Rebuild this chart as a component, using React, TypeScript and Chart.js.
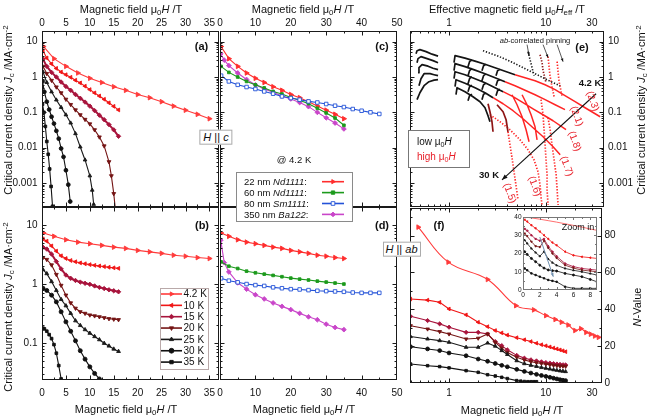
import React, { useEffect, useRef } from 'react';
import { Chart, registerables } from 'chart.js';

Chart.register(...registerables);

const W = 647;
const H = 418;
const FONT = '"Liberation Sans", Arial, Helvetica, sans-serif';
Chart.defaults.font.family = FONT;
Chart.defaults.color = '#111';

// ================= tick labels =================
const TICKS_A_X = [0, 5, 10, 15, 20, 25, 30, 35];
const TICKS_C_X = [0, 10, 20, 30, 40, 50];
const TICKS_LOG_X = [1, 10, 30];
const TICKS_JC_TOP = [0.001, 0.01, 0.1, 1, 10];
const TICKS_JC_BOT = [0.1, 1, 10];
const TICKS_N = [0, 20, 40, 60, 80];
const TICKS_IN_X = [0, 2, 4, 6, 8];
const TICKS_IN_Y = [0, 10, 20, 30, 40];

// ================= legend labels =================
const TEMPS = ['4.2 K', '10 K', '15 K', '20 K', '25 K', '30 K', '35 K'];
const SAMPLES = [
  ['22 nm ', 'Nd1111', ':'],
  ['60 nm ', 'Nd1111', ':'],
  ['80 nm ', 'Sm1111', ':'],
  ['350 nm ', 'Ba122', ':'],
];

// ================= panels c / d (and 4.2 K in a / b) =================
const ND22_X = [0.3, 2.5, 5, 7.5, 10, 12.5, 15, 17.5, 20, 22.5, 25, 27.5, 30, 32.5, 35];
const ND22_HC = [7.3, 3.3, 2.0, 1.3, 0.92, 0.7, 0.53, 0.42, 0.32, 0.26, 0.2, 0.15, 0.115, 0.088, 0.066];
const ND22_HAB = [7.3, 6.4, 5.6, 5.1, 4.8, 4.5, 4.2, 4.0, 3.7, 3.5, 3.3, 3.07, 2.95, 2.8, 2.7];
const ND60_X = [0.3, 2.5, 5, 7.5, 10, 12.5, 15, 17.5, 20, 22.5, 25, 27.5, 30, 32.5, 35];
const ND60_HC = [2.0, 1.35, 1.0, 0.75, 0.6, 0.49, 0.39, 0.33, 0.264, 0.22, 0.176, 0.13, 0.096, 0.069, 0.043];
const ND60_HAB = [2.37, 2.0, 1.83, 1.65, 1.55, 1.47, 1.4, 1.33, 1.26, 1.21, 1.17, 1.12, 1.08, 1.04, 1.0];
const SM80_X = [0.3, 2.5, 5, 7.5, 10, 12.5, 15, 17.5, 20, 22.5, 25, 27.5, 30, 32.5, 35, 37.5, 40, 42.5, 45];
const SM80_HC = [1.09, 0.75, 0.6, 0.52, 0.457, 0.39, 0.337, 0.282, 0.254, 0.228, 0.204, 0.19, 0.172, 0.154, 0.141, 0.124, 0.111, 0.1, 0.09];
const SM80_HAB = [1.25, 1.14, 1.07, 1.0, 0.96, 0.93, 0.88, 0.85, 0.82, 0.81, 0.79, 0.77, 0.76, 0.75, 0.74, 0.72, 0.71, 0.71, 0.71];
const BA122_X = [0.2, 1.2, 2.5, 5, 7.5, 10, 12.5, 15, 17.5, 20, 22.5, 25, 27.5, 30, 32.5, 35];
const BA122_HC = [4.5, 3.0, 2.1, 1.3, 0.85, 0.6, 0.46, 0.37, 0.29, 0.24, 0.19, 0.145, 0.1, 0.07, 0.05, 0.034];
const BA122_HAB = [5.5, 2.3, 1.6, 1.05, 0.82, 0.66, 0.56, 0.48, 0.42, 0.37, 0.32, 0.28, 0.25, 0.21, 0.185, 0.17];

// ================= panel a (H || c) =================
const FIELD_DENSE = [0.2, 1, 2, 3, 4, 5, 6, 7, 8, 9, 10, 11, 12, 13, 14, 15, 16];
const A10_HC = [5.5, 3.45, 2.35, 1.75, 1.38, 1.16, 0.98, 0.81, 0.68, 0.55, 0.44, 0.355, 0.29, 0.234, 0.186, 0.148, 0.117];
const A15_HC = [3.2, 2.0, 1.35, 1.0, 0.72, 0.54, 0.42, 0.32, 0.25, 0.195, 0.15, 0.112, 0.083, 0.062, 0.045, 0.032, 0.021];
const A20_X = [0.2, 1, 2, 3, 4, 5, 6, 7, 8, 9, 10, 11, 12, 13, 14, 14.5, 15, 15.3];
const A20_HC = [2.0, 1.25, 0.8, 0.52, 0.355, 0.234, 0.166, 0.117, 0.085, 0.063, 0.047, 0.032, 0.02, 0.0112, 0.004, 0.0016, 0.0005, 0.0002];
const A25_X = [0.2, 1, 2, 3, 4, 5, 6, 7, 8, 9, 10, 10.5, 10.8];
const A25_HC = [1.4, 0.7, 0.38, 0.224, 0.138, 0.085, 0.05, 0.025, 0.0105, 0.0045, 0.0016, 0.00063, 0.00025];
const A30_X = [0.1, 0.5, 1, 1.5, 2, 2.5, 3, 3.5, 4, 4.5, 5, 5.5, 5.9];
const A30_HC = [0.75, 0.38, 0.2, 0.12, 0.075, 0.048, 0.03, 0.018, 0.0095, 0.0055, 0.0023, 0.0009, 0.0003];
const A35_X = [0.1, 0.4, 0.7, 1, 1.3, 1.6, 1.9, 2.2];
const A35_HC = [0.17, 0.1, 0.04, 0.015, 0.0065, 0.0025, 0.0008, 0.00022];

// ================= panel b (H || ab) =================
const B10_HAB = [5.8, 5.3, 4.4, 3.6, 3.0, 2.7, 2.5, 2.38, 2.28, 2.2, 2.13, 2.07, 2.02, 1.97, 1.92, 1.88, 1.84];
const B15_HAB = [4.2, 3.9, 3.2, 2.4, 1.8, 1.42, 1.25, 1.15, 1.08, 1.03, 0.99, 0.93, 0.88, 0.84, 0.8, 0.77, 0.74];
const B20_HAB = [2.8, 2.6, 2.1, 1.45, 0.95, 0.65, 0.48, 0.39, 0.34, 0.32, 0.3, 0.29, 0.28, 0.27, 0.26, 0.255, 0.25];
const B25_HAB = [1.75, 1.5, 1.1, 0.78, 0.55, 0.43, 0.32, 0.24, 0.2, 0.17, 0.148, 0.13, 0.115, 0.1, 0.09, 0.08, 0.073];
const B30_X = [0.2, 1, 2, 3, 4, 5, 6, 7, 8, 9, 10, 11, 12];
const B30_HAB = [0.85, 0.78, 0.65, 0.5, 0.34, 0.23, 0.16, 0.11, 0.075, 0.054, 0.04, 0.031, 0.025];
const B35_X = [0.2, 0.5, 1, 1.5, 2, 2.5, 3, 3.5, 4];
const B35_HAB = [0.18, 0.175, 0.16, 0.14, 0.12, 0.095, 0.068, 0.042, 0.025];

// ================= panel e (scaling, H_eff) =================
type Pair = [number, number];
const E_LOW: Pair[][] = [
  [[0.456, 4.57], [0.467, 5.55], [0.5, 5.93], [0.579, 5.21], [0.667, 4.42], [0.77, 3.88]],
  [[0.467, 2.54], [0.478, 3.3], [0.513, 3.76], [0.593, 3.3], [0.683, 2.9], [0.77, 2.54]],
  [[0.478, 1.32], [0.489, 1.83], [0.526, 2.23], [0.607, 2.02], [0.683, 1.77], [0.77, 1.61]],
  [[0.489, 0.567], [0.513, 0.895], [0.552, 1.24], [0.637, 1.24], [0.7, 1.16], [0.77, 1.09]],
  [[0.467, 0.228], [0.5, 0.359], [0.552, 0.567], [0.621, 0.736], [0.7, 0.812], [0.77, 0.839]],
  [[1.126, 2.54], [1.154, 4.01], [1.463, 3.41], [1.857, 2.8], [2.355, 2.3], [2.99, 1.83], [3.79, 1.46], [4.81, 1.16]],
  [[1.126, 1.51], [1.154, 2.38], [1.463, 1.96], [1.857, 1.56], [2.355, 1.24], [2.99, 0.955], [3.79, 0.736]],
  [[1.126, 0.895], [1.154, 1.41], [1.463, 1.16], [1.857, 0.895], [2.355, 0.69], [2.99, 0.498], [3.62, 0.384]],
  [[1.154, 0.531], [1.181, 0.839], [1.463, 0.667], [1.857, 0.498], [2.355, 0.359], [2.85, 0.259]],
  [[1.181, 0.315], [1.21, 0.498], [1.463, 0.384], [1.77, 0.277], [2.09, 0.2], [2.355, 0.135], [2.53, 0.08], [2.65, 0.0542]],
  [[1.571, 1.96], [1.63, 2.71], [1.729, 3.09]],
  [[1.571, 1.09], [1.63, 1.51], [1.729, 1.76]],
  [[1.571, 0.646], [1.63, 0.895], [1.729, 1.02]],
  [[1.571, 0.384], [1.63, 0.531], [1.729, 0.586]],
  [[1.571, 0.213], [1.63, 0.295], [1.729, 0.326]],
  [[2.19, 1.51], [2.275, 2.09], [2.41, 2.3]],
  [[2.19, 0.786], [2.275, 1.09], [2.41, 1.224]],
  [[2.19, 0.437], [2.275, 0.605], [2.41, 0.672]],
  [[2.19, 0.228], [2.275, 0.326], [2.41, 0.348]],
  [[3.06, 1.09], [3.175, 1.51], [3.37, 1.66]],
  [[3.06, 0.567], [3.175, 0.786], [3.37, 0.839]],
  [[3.06, 0.295], [3.175, 0.409], [3.37, 0.451]],
];
const E_HIGH: Pair[][] = [
  [[4.81, 1.16], [6.11, 0.955], [7.75, 0.786], [9.84, 0.605], [12.5, 0.437], [15.8, 0.295], [20.1, 0.2], [25.5, 0.135], [32.4, 0.0913], [36.5, 0.075]],
  [[3.79, 0.736], [4.81, 0.567], [6.11, 0.423], [7.75, 0.315], [9.84, 0.228], [12.5, 0.164], [15.8, 0.119]],
  [[3.62, 0.384], [4.59, 0.277], [5.82, 0.187], [7.39, 0.126], [9.38, 0.0855], [11.9, 0.0578], [16.2, 0.0322]],
  [[2.85, 0.259], [3.62, 0.175], [4.59, 0.111], [5.82, 0.0659], [7.39, 0.0366], [9.38, 0.0204], [11.9, 0.0106], [14.1, 0.0063]],
  [[4.48, 0.315], [5.05, 0.164], [5.69, 0.075], [6.26, 0.0322], [6.72, 0.0147]],
  [[5.69, 0.315], [6.41, 0.164], [7.05, 0.0855], [7.75, 0.0391], [8.13, 0.0167]],
];
const E_DARK: Pair[][] = [
  [[2.53, 0.175], [2.65, 0.104], [2.78, 0.0542], [2.85, 0.0282]],
  [[3.135, 0.164], [3.62, 0.104], [3.89, 0.0617], [4.07, 0.0282]],
];
const E_RED_DOTTED: Pair[][] = [
  [[2.65, 0.0855], [3.37, 0.0542], [4.27, 0.0322], [5.42, 0.0167], [6.56, 0.0087], [7.57, 0.0045], [8.32, 0.00208], [8.73, 0.00089], [8.94, 0.000406], [9.16, 0.000226]],
  [[4.07, 0.0282], [4.27, 0.0121], [4.48, 0.00517], [4.7, 0.00208], [4.93, 0.000833], [5.17, 0.000335]],
  [[10.56, 0.0703], [11.1, 0.0322], [11.6, 0.0121], [12.2, 0.0045], [12.8, 0.0017], [13.1, 0.00064], [13.4, 0.00024]],
  [[8.94, 0.228], [9.38, 0.0855], [9.61, 0.0322], [9.84, 0.0121], [10.07, 0.0045], [10.31, 0.0017], [10.31, 0.00064], [10.56, 0.00024]],
  [[10.56, 3.76], [10.69, 2.71], [10.82, 1.96], [10.95, 1.41], [11.1, 1.02], [11.36, 0.736], [11.6, 0.531], [11.9, 0.384], [12.2, 0.277]],
  [[13.1, 2.71], [13.25, 1.96], [13.4, 1.41], [13.57, 1.02], [13.73, 0.736], [14.1, 0.531], [14.4, 0.384], [14.8, 0.277]],
];
const E_DARK_DOTTED: Pair[][] = [
  [[8.73, 4.28], [8.94, 3.3], [9.16, 2.54], [9.27, 1.96], [9.38, 1.51], [9.61, 1.16], [9.84, 0.895], [10.07, 0.69]],
];
const E_BLACK_DOTTED: Pair[][] = [
  [[6.56, 5.21], [6.72, 4.01], [6.88, 3.09], [7.05, 2.38], [7.22, 1.83], [7.39, 1.41], [7.57, 1.09]],
  [[2.245, 5.55], [2.65, 4.72], [3.135, 4.01], [3.71, 3.3], [4.38, 2.71], [5.17, 2.16], [6.11, 1.72], [7.22, 1.37], [8.53, 1.09], [10.07, 0.866], [11.9, 0.69], [14.1, 0.567]],
];
const E_ARROW: Pair[] = [[33.1, 0.336], [3.53, 0.00123]];
const E_AB_ARROWS: Pair[][] = [
  [[6.41, 8.22], [6.72, 4.01]],
  [[9.38, 8.22], [10.56, 3.52]],
  [[13.1, 8.22], [15.1, 2.71]],
];

// ================= panel f (N-value) =================
const F_X = [0.4, 0.6, 0.8, 1, 1.5, 2, 2.5, 3, 3.5, 4, 5, 6, 7, 8, 9, 10, 11, 12, 13, 14, 15, 16];
const F10 = [45.6, 45, 43.8, 40.2, 37, 33, 30.6, 28.5, 27.2, 26, 24.6, 23.5, 22.5, 21.6, 20.8, 20.2, 19.6, 19, 18.5, 18, 17.5, 17];
const F15 = [36.2, 33.9, 32.1, 30.3, 27.5, 27.5, 26.6, 22.5, 20.3, 18, 15, 13.5, 12.6, 12, 11.5, 11.1, 10.8, 10.5, 10.3, 10.1, 9.9, 9.8];
const F20 = [31.1, 29.3, 27.9, 26.6, 23.9, 24.3, 26.6, 22, 18.9, 16.5, 14, 12.5, 11.6, 11, 10.6, 10.2, 9.9, 9.6, 9.4, 9.2, 9.1, 9.0];
const F25 = [25.2, 23.9, 23.0, 22.1, 19.4, 19.4, 21.7, 20, 17.6, 15.5, 12.1, 10.5, 9.6, 9.0, 8.4, 8.0, 7.6, 7.2, 6.9, 6.6, 6.4, 6.2];
const F30 = [19.7, 18.5, 17.6, 16.3, 14.8, 13.0, 11.8, 10.6, 9.6, 8.8, 7.4, 6.3, 5.4, 4.7, 4.1, 3.6, 3.1, 2.6, 2.2, 1.8, 1.5, 1.3];
const F35_X = [0.4, 0.6, 0.8, 1, 1.5, 2, 2.5, 3, 3.5, 4, 5, 5.5, 6, 6.5, 7, 7.5, 8];
const F35 = [10.3, 9.4, 8.9, 8.2, 6.7, 5.8, 4.5, 3.8, 3.1, 2.4, 1.3, 1.0, 0.8, 0.7, 0.7, 0.7, 0.7];
const F42_X = [0.48, 0.98, 2.5, 4.9, 7.5, 10, 12.5, 14.5, 17, 20, 23, 26, 29, 32, 35];
const F42 = [84.6, 65.6, 56.2, 42, 39.7, 36.6, 34.5, 33, 31.5, 28.5, 29.5, 27.5, 26.5, 25.5, 24.8];

// ================= inset (zoom in) =================
const IN_X = [0.2, 0.5, 1, 1.5, 2, 2.5, 3, 3.5, 4, 5, 6, 7, 8, 8.8];
const IN10 = [38.5, 37.5, 35.5, 33.8, 32, 30, 28, 26, 24.5, 21, 19, 18.2, 17.7, 17.3];
const IN15 = [33.5, 32.5, 30, 28, 27, 28, 24, 21, 18.5, 14.5, 12.8, 11.8, 11.3, 10.9];
const IN20 = [31, 29.5, 26.5, 24, 23.5, 27, 23, 20, 17.5, 13.6, 12, 10.9, 10.4, 10];
const IN25 = [27.3, 25.5, 22.7, 20.5, 18.5, 21, 17, 15, 13.5, 11.8, 10.8, 10, 9, 8.2];
const IN30 = [21, 19.5, 17.3, 15.5, 13.6, 12, 11, 10.6, 10.4, 9.1, 8.2, 7.3, 5.8, 4.5];
const IN35 = [11.8, 10.8, 9.1, 8.2, 7.3, 6.4, 5.5, 5, 4.5, 1.8, 0.9, 0.9, 0.9, 0.9];
const IN_TOP_X = [0.3, 1, 2, 3, 4, 5, 6, 7, 8, 8.8];
const IN_TOP = [40, 39.5, 38.8, 38, 37.2, 36.3, 35.4, 34.5, 33.4, 32.7];
const IN_ARROW: Pair[] = [[2, 29], [3.6, 7.3]];

// ================= styles =================
const T_STYLE = [
  { c: '#ff3a3a', s: 'triangle', r: 90, f: '#ff3a3a' },
  { c: '#f01515', s: 'triangle', r: 270, f: '#f01515' },
  { c: '#a8143c', s: 'rectRot', r: 0, f: '#a8143c' },
  { c: '#741414', s: 'triangle', r: 180, f: '#741414' },
  { c: '#1a1a1a', s: 'triangle', r: 0, f: '#1a1a1a' },
  { c: '#111111', s: 'circle', r: 0, f: '#111111' },
  { c: '#111111', s: 'rect', r: 0, f: '#111111' },
];
const S_STYLE = [
  { c: '#ff2d2d', s: 'triangle', r: 90, f: '#ff2d2d' },
  { c: '#1c9a1c', s: 'rect', r: 0, f: '#1c9a1c' },
  { c: '#2352d8', s: 'rect', r: 0, f: '#ffffff' },
  { c: '#c945c9', s: 'rectRot', r: 0, f: '#c945c9' },
];
const E_BLACK = '#141414';
const E_RED = '#ff2424';
const E_DARKRED = '#8e1515';

// ================= helpers =================
const pts = (xs: number[], ys: number[]) => xs.map((x, i) => ({ x, y: ys[i] }));
const joinCurves = (curves: Pair[][]) => {
  const out: { x: number; y: number | null }[] = [];
  curves.forEach((c, i) => {
    if (i > 0) out.push({ x: c[0][0], y: null });
    c.forEach(([x, y]) => out.push({ x, y }));
  });
  return out;
};

function ser(data: any[], st: any, radius = 2.2, width = 1.1, extra: any = {}) {
  return {
    data,
    borderColor: st.c,
    backgroundColor: st.f,
    pointBackgroundColor: st.f,
    pointBorderColor: st.c,
    pointStyle: st.s,
    pointRotation: st.r,
    pointRadius: radius,
    pointBorderWidth: 0.9,
    borderWidth: width,
    tension: 0,
    showLine: true,
    spanGaps: false,
    ...extra,
  };
}
function curveSet(data: any[], color: string, width: number, dash: number[] = []) {
  return {
    data,
    borderColor: color,
    backgroundColor: color,
    borderWidth: width,
    pointRadius: 0,
    showLine: true,
    spanGaps: false,
    tension: 0,
    borderDash: dash,
    borderCapStyle: 'butt',
    borderJoinStyle: 'round',
  };
}

function logMajor(min: number, max: number) {
  const out: number[] = [];
  for (let e = -5; e <= 3; e++) {
    const v = Math.pow(10, e);
    if (v >= min * 0.999 && v <= max * 1.001) out.push(v);
  }
  return out;
}
function logMinor(min: number, max: number) {
  const out: number[] = [];
  for (let e = -5; e <= 3; e++)
    for (let m = 2; m <= 9; m++) {
      const v = m * Math.pow(10, e);
      if (v >= min * 0.999 && v <= max * 1.001) out.push(v);
    }
  return out;
}
function linTicks(start: number, max: number, step: number) {
  const out: number[] = [];
  for (let v = start; v <= max + 1e-9; v += step) out.push(v);
  return out;
}

function marker(ctx: CanvasRenderingContext2D, st: any, x: number, y: number, r: number) {
  ctx.save();
  ctx.translate(x, y);
  ctx.rotate((st.r * Math.PI) / 180);
  ctx.beginPath();
  if (st.s === 'triangle') {
    ctx.moveTo(0, -r);
    ctx.lineTo(r * 0.866, r * 0.5);
    ctx.lineTo(-r * 0.866, r * 0.5);
    ctx.closePath();
  } else if (st.s === 'rect') {
    const s = r * 0.707;
    ctx.rect(-s, -s, 2 * s, 2 * s);
  } else if (st.s === 'rectRot') {
    ctx.moveTo(0, -r);
    ctx.lineTo(r, 0);
    ctx.lineTo(0, r);
    ctx.lineTo(-r, 0);
    ctx.closePath();
  } else {
    ctx.arc(0, 0, r, 0, Math.PI * 2);
  }
  ctx.fillStyle = st.f;
  ctx.fill();
  ctx.strokeStyle = st.c;
  ctx.lineWidth = 0.9;
  ctx.stroke();
  ctx.restore();
}

function arrow(ctx: CanvasRenderingContext2D, x1: number, y1: number, x2: number, y2: number, head: number, color: string, width: number) {
  ctx.save();
  ctx.strokeStyle = color;
  ctx.fillStyle = color;
  ctx.lineWidth = width;
  ctx.beginPath();
  ctx.moveTo(x1, y1);
  ctx.lineTo(x2, y2);
  ctx.stroke();
  const a = Math.atan2(y2 - y1, x2 - x1);
  ctx.beginPath();
  ctx.moveTo(x2, y2);
  ctx.lineTo(x2 - head * Math.cos(a - 0.38), y2 - head * Math.sin(a - 0.38));
  ctx.lineTo(x2 - head * Math.cos(a + 0.38), y2 - head * Math.sin(a + 0.38));
  ctx.closePath();
  ctx.fill();
  ctx.restore();
}

// ================= chart building =================
function scaleOptions(ax: any, margin: number) {
  const horiz = ax.pos === 'top' || ax.pos === 'bottom';
  return {
    type: ax.type,
    position: ax.pos,
    min: ax.min,
    max: ax.max,
    grid: { display: false, drawTicks: false },
    border: { display: false },
    title: { display: false },
    ticks: {
      display: ax.show,
      autoSkip: false,
      maxRotation: 0,
      minRotation: 0,
      padding: ax.pad,
      color: '#111',
      font: { size: ax.size ?? 10, family: FONT },
      callback: (v: any) => String(v),
    },
    afterBuildTicks: (s: any) => {
      s.ticks = ax.labels.map((v: number) => ({ value: v }));
    },
    afterFit: (s: any) => {
      if (horiz) s.height = margin;
      else s.width = margin;
    },
  };
}

function framePlugin(spec: any) {
  return {
    id: 'frame_' + spec.key,
    beforeDatasetsDraw(chart: any) {
      if (!spec.bg) return;
      const a = chart.chartArea;
      chart.ctx.save();
      chart.ctx.fillStyle = spec.bg;
      chart.ctx.fillRect(a.left, a.top, a.right - a.left, a.bottom - a.top);
      chart.ctx.restore();
    },
    afterDraw(chart: any) {
      const ctx: CanvasRenderingContext2D = chart.ctx;
      const a = chart.chartArea;
      const xs = chart.scales.x;
      const ys = chart.scales.y;
      const L = Math.round(a.left) + 0.5;
      const R = Math.round(a.right) - 0.5;
      const T = Math.round(a.top) + 0.5;
      const B = Math.round(a.bottom) - 0.5;
      const [lmaj, lmin] = spec.tickLen ?? [4, 2];
      ctx.save();
      ctx.strokeStyle = spec.frame ?? '#1a1a1a';
      ctx.lineWidth = 1;
      ctx.strokeRect(L, T, R - L, B - T);
      ctx.beginPath();
      const doX = (vals: number[], len: number) =>
        vals.forEach((v) => {
          const p = Math.round(xs.getPixelForValue(v)) + 0.5;
          if (p < L - 0.2 || p > R + 0.2) return;
          ctx.moveTo(p, B);
          ctx.lineTo(p, B - len);
          ctx.moveTo(p, T);
          ctx.lineTo(p, T + len);
        });
      const doY = (vals: number[], len: number) =>
        vals.forEach((v) => {
          const p = Math.round(ys.getPixelForValue(v)) + 0.5;
          if (p < T - 0.2 || p > B + 0.2) return;
          ctx.moveTo(L, p);
          ctx.lineTo(L + len, p);
          ctx.moveTo(R, p);
          ctx.lineTo(R - len, p);
        });
      doX(spec.x.major, lmaj);
      doX(spec.x.minor, lmin);
      doY(spec.y.major, lmaj);
      doY(spec.y.minor, lmin);
      ctx.stroke();
      ctx.restore();
      if (spec.draw) {
        ctx.save();
        spec.draw(chart, ctx);
        ctx.restore();
      }
    },
  };
}

function buildChart(canvas: HTMLCanvasElement, spec: any) {
  const [l, t, r, b] = spec.area;
  const margins: any = { left: l, top: t, right: W - r, bottom: H - b };
  const padding: any = { ...margins };
  padding[spec.x.pos] = 0;
  padding[spec.y.pos] = 0;
  return new Chart(canvas, {
    type: 'line',
    data: { datasets: spec.datasets },
    options: {
      animation: false,
      responsive: false,
      maintainAspectRatio: false,
      devicePixelRatio: 1,
      events: [],
      layout: { padding },
      plugins: { legend: { display: false }, tooltip: { enabled: false }, title: { display: false } },
      scales: {
        x: scaleOptions(spec.x, margins[spec.x.pos]),
        y: scaleOptions(spec.y, margins[spec.y.pos]),
      },
    } as any,
    plugins: [framePlugin(spec)],
  } as any);
}

// ================= axis specs =================
const JC_TOP_MIN = 2.1e-4;
const JC_TOP_MAX = 20;
const JC_BOT_MIN = 0.024;
const JC_BOT_MAX = 20;
const HEFF_MIN = 0.395;

const axisAx = (pos: string, show: boolean, pad: number) => ({
  type: 'linear', pos, min: 0, max: 37, labels: TICKS_A_X, show, pad,
  major: linTicks(0, 37, 5), minor: linTicks(2.5, 37, 5),
});
const axisCx = (pos: string, pad: number) => ({
  type: 'linear', pos, min: 0, max: 50, labels: TICKS_C_X, show: true, pad,
  major: linTicks(0, 50, 10), minor: linTicks(5, 50, 10),
});
const axisJcTop = (pos: string, show: boolean, pad: number) => ({
  type: 'logarithmic', pos, min: JC_TOP_MIN, max: JC_TOP_MAX, labels: TICKS_JC_TOP, show, pad,
  major: logMajor(JC_TOP_MIN, JC_TOP_MAX), minor: logMinor(JC_TOP_MIN, JC_TOP_MAX),
});
const axisJcBot = (pos: string, show: boolean, pad: number) => ({
  type: 'logarithmic', pos, min: JC_BOT_MIN, max: JC_BOT_MAX, labels: TICKS_JC_BOT, show, pad,
  major: logMajor(JC_BOT_MIN, JC_BOT_MAX), minor: logMinor(JC_BOT_MIN, JC_BOT_MAX),
});
const axisLogX = (pos: string, max: number, pad: number) => ({
  type: 'logarithmic', pos, min: HEFF_MIN, max, labels: TICKS_LOG_X, show: true, pad,
  major: logMajor(HEFF_MIN, max), minor: logMinor(HEFF_MIN, max),
});

function legendB(ctx: CanvasRenderingContext2D) {
  const x0 = 160, y0 = 288, w = 48, h = 81;
  ctx.fillStyle = '#fff';
  ctx.fillRect(x0, y0, w, h);
  ctx.strokeStyle = '#b9a9a9';
  ctx.lineWidth = 1;
  ctx.strokeRect(x0 + 0.5, y0 + 0.5, w, h);
  ctx.font = `10px ${FONT}`;
  ctx.textBaseline = 'middle';
  ctx.textAlign = 'left';
  TEMPS.forEach((t, i) => {
    const y = 294 + i * 11.35;
    const st = T_STYLE[i];
    ctx.strokeStyle = st.c;
    ctx.lineWidth = 1.6;
    ctx.beginPath();
    ctx.moveTo(161, y);
    ctx.lineTo(182, y);
    ctx.stroke();
    marker(ctx, st, 171.5, y, 2.4);
    ctx.fillStyle = '#111';
    ctx.fillText(t, 183.5, y + 0.5);
  });
}

function legendCD(ctx: CanvasRenderingContext2D) {
  const x0 = 236, y0 = 172.5, w = 116, h = 49;
  ctx.fillStyle = '#fff';
  ctx.fillRect(x0, y0, w, h);
  ctx.strokeStyle = '#8a8a8a';
  ctx.lineWidth = 1;
  ctx.strokeRect(x0 + 0.5, y0, w, h);
  ctx.textBaseline = 'middle';
  ctx.textAlign = 'left';
  SAMPLES.forEach((parts, i) => {
    const y = 181.7 + i * 10.9;
    let x = 244;
    parts.forEach((p, k) => {
      ctx.font = `${k === 1 ? 'italic ' : ''}9.5px ${FONT}`;
      ctx.fillStyle = '#111';
      ctx.fillText(p, x, y + 0.5);
      x += ctx.measureText(p).width;
    });
    const st = S_STYLE[i];
    ctx.strokeStyle = st.c;
    ctx.lineWidth = 1.6;
    ctx.beginPath();
    ctx.moveTo(322, y);
    ctx.lineTo(344, y);
    ctx.stroke();
    marker(ctx, st, 333, y, i === 2 ? 2.6 : 2.4);
  });
}

function specA() {
  return {
    key: 'a', area: [42, 31, 219, 207],
    x: axisAx('top', true, 1.5), y: axisJcTop('left', true, 4.5),
    datasets: [
      ser(pts(A35_X, A35_HC), T_STYLE[6], 1.9),
      ser(pts(A30_X, A30_HC), T_STYLE[5], 1.9),
      ser(pts(A25_X, A25_HC), T_STYLE[4], 2.1),
      ser(pts(A20_X, A20_HC), T_STYLE[3], 2.2),
      ser(pts(FIELD_DENSE, A15_HC), T_STYLE[2], 2.2, 2),
      ser(pts(FIELD_DENSE, A10_HC), T_STYLE[1], 2.2),
      ser(pts(ND22_X, ND22_HC), T_STYLE[0], 2.7),
    ],
  };
}
function specB() {
  return {
    key: 'b', area: [42, 207, 219, 380],
    x: axisAx('bottom', true, 7), y: axisJcBot('left', true, 4.5),
    datasets: [
      ser(pts(B35_X, B35_HAB), T_STYLE[6], 1.9),
      ser(pts(B30_X, B30_HAB), T_STYLE[5], 2.0),
      ser(pts(FIELD_DENSE, B25_HAB), T_STYLE[4], 2.2),
      ser(pts(FIELD_DENSE, B20_HAB), T_STYLE[3], 2.2),
      ser(pts(FIELD_DENSE, B15_HAB), T_STYLE[2], 2.2, 2),
      ser(pts(FIELD_DENSE, B10_HAB), T_STYLE[1], 2.2),
      ser(pts(ND22_X, ND22_HAB), T_STYLE[0], 2.7),
    ],
    draw: (_c: any, ctx: CanvasRenderingContext2D) => legendB(ctx),
  };
}
function specC() {
  return {
    key: 'c', area: [220, 31, 397, 207],
    x: axisCx('top', 1.5), y: axisJcTop('left', false, 4),
    datasets: [
      ser(pts(SM80_X, SM80_HC), S_STYLE[2], 2.5),
      ser(pts(ND60_X, ND60_HC), S_STYLE[1], 1.9),
      ser(pts(BA122_X, BA122_HC), S_STYLE[3], 2.4),
      ser(pts(ND22_X, ND22_HC), S_STYLE[0], 2.7),
    ],
  };
}
function specD() {
  return {
    key: 'd', area: [220, 207, 397, 380],
    x: axisCx('bottom', 7), y: axisJcBot('left', false, 4),
    datasets: [
      ser(pts(SM80_X, SM80_HAB), S_STYLE[2], 2.5),
      ser(pts(ND60_X, ND60_HAB), S_STYLE[1], 1.9),
      ser(pts(BA122_X, BA122_HAB), S_STYLE[3], 2.4),
      ser(pts(ND22_X, ND22_HAB), S_STYLE[0], 2.7),
    ],
    draw: (_c: any, ctx: CanvasRenderingContext2D) => legendCD(ctx),
  };
}
function specE() {
  return {
    key: 'e', area: [410, 31, 604, 207],
    x: axisLogX('top', 40, 1.5), y: axisJcTop('right', true, 4),
    datasets: [
      curveSet(joinCurves(E_BLACK_DOTTED), E_BLACK, 1.6, [1.3, 1.7]),
      curveSet(joinCurves(E_LOW), E_BLACK, 1.7),
      curveSet(joinCurves(E_DARK_DOTTED), E_DARKRED, 1.7, [1.3, 1.6]),
      curveSet(joinCurves(E_DARK), E_DARKRED, 1.7),
      curveSet(joinCurves(E_HIGH), E_RED, 1.5),
      curveSet(joinCurves(E_RED_DOTTED), E_RED, 1.7, [1.3, 1.7]),
    ],
    draw: (chart: any, ctx: CanvasRenderingContext2D) => {
      const xs = chart.scales.x;
      const ys = chart.scales.y;
      const P = (p: Pair) => [xs.getPixelForValue(p[0]), ys.getPixelForValue(p[1])];
      const [a1, a2] = E_ARROW.map(P);
      arrow(ctx, a1[0], a1[1], a2[0], a2[1], 6, '#111', 1.1);
      E_AB_ARROWS.forEach((seg) => {
        const [p1, p2] = seg.map(P);
        arrow(ctx, p1[0], p1[1], p2[0], p2[1], 3.5, '#111', 0.7);
      });
    },
  };
}
function specF() {
  return {
    key: 'f', area: [410, 208, 602, 383],
    x: axisLogX('bottom', 38, 4.3),
    y: { type: 'linear', pos: 'right', min: 0, max: 95, labels: TICKS_N, show: true, pad: 2.5, major: linTicks(0, 95, 20), minor: linTicks(10, 95, 20) },
    datasets: [
      ser(pts(F35_X, F35), T_STYLE[6], 1.8),
      ser(pts(F_X, F30), T_STYLE[5], 1.9),
      ser(pts(F_X, F25), T_STYLE[4], 2.1),
      ser(pts(F_X, F20), T_STYLE[3], 2.1),
      ser(pts(F_X, F15), T_STYLE[2], 2.1),
      ser(pts(F_X, F10), T_STYLE[1], 2.1),
      ser(pts(F42_X, F42), T_STYLE[0], 2.7, 1.1, { tension: 0.4 }),
    ],
  };
}
function specInset() {
  return {
    key: 'in', area: [523, 217, 597, 290], bg: '#fff', frame: '#777', tickLen: [2.5, 1.5],
    x: { type: 'linear', pos: 'bottom', min: 0, max: 8.8, labels: TICKS_IN_X, show: true, pad: 1, size: 6.5, major: linTicks(0, 8.8, 2), minor: linTicks(1, 8.8, 2) },
    y: { type: 'linear', pos: 'left', min: 0, max: 40, labels: TICKS_IN_Y, show: true, pad: 1.5, size: 6.5, major: linTicks(0, 40, 10), minor: linTicks(5, 40, 10) },
    datasets: [
      ser(pts(IN_X, IN35), T_STYLE[6], 1, 0.8),
      ser(pts(IN_X, IN30), T_STYLE[5], 1, 0.8),
      ser(pts(IN_X, IN25), T_STYLE[4], 1, 0.8),
      ser(pts(IN_X, IN20), T_STYLE[3], 1, 0.8),
      ser(pts(IN_X, IN15), T_STYLE[2], 1, 0.8),
      ser(pts(IN_X, IN10), T_STYLE[1], 1, 0.8),
      curveSet(pts(IN_TOP_X, IN_TOP), '#ff4a4a', 0.8),
    ],
    draw: (chart: any, ctx: CanvasRenderingContext2D) => {
      const xs = chart.scales.x;
      const ys = chart.scales.y;
      const [p1, p2] = IN_ARROW.map((p) => [xs.getPixelForValue(p[0]), ys.getPixelForValue(p[1])]);
      arrow(ctx, p1[0], p1[1], p2[0], p2[1], 4, '#6f8fae', 1);
    },
  };
}

const SPECS = [specA, specB, specC, specD, specE, specF, specInset];

function PanelCanvas({ make }: { make: () => any }) {
  const ref = useRef<HTMLCanvasElement>(null);
  useEffect(() => {
    const chart = buildChart(ref.current as HTMLCanvasElement, make());
    return () => chart.destroy();
  }, [make]);
  return (
    <canvas
      ref={ref}
      width={W}
      height={H}
      style={{ position: 'absolute', left: 0, top: 0, width: W, height: H }}
    />
  );
}

// ================= text overlays =================
const Sub = ({ c }: { c: string }) => (
  <span style={{ fontSize: '0.72em', position: 'relative', top: '0.3em' }}>{c}</span>
);
const Sup = ({ c }: { c: string }) => (
  <span style={{ fontSize: '0.72em', position: 'relative', top: '-0.45em' }}>{c}</span>
);

function Txt({ x, y, size = 11, rot = 0, bold = false, color = '#111', children, style = {} }: any) {
  return (
    <div
      style={{
        position: 'absolute',
        left: x,
        top: y,
        transform: `translate(-50%, -50%) rotate(${rot}deg)`,
        fontSize: size,
        fontWeight: bold ? 700 : 400,
        color,
        whiteSpace: 'nowrap',
        lineHeight: 1.15,
        fontFamily: FONT,
        ...style,
      }}
    >
      {children}
    </div>
  );
}

const MuH = () => (
  <>
    μ<Sub c="0" />
    <i>H</i>
  </>
);
const JcTitle = () => (
  <>
    Critical current density <i>J</i>
    <Sub c="c" /> /MA·cm
    <Sup c="-2" />
  </>
);

const GAMMAS = [
  { t: '(2.3)', x: 593, y: 101 },
  { t: '(2.1)', x: 577, y: 116 },
  { t: '(1.8)', x: 575, y: 141 },
  { t: '(1.7)', x: 567, y: 166 },
  { t: '(1.6)', x: 535, y: 186 },
  { t: '(1.5)', x: 510, y: 193 },
];

export default function App() {
  return (
    <div
      style={{
        position: 'absolute',
        left: 0,
        top: 0,
        width: W,
        height: H,
        background: '#fff',
        overflow: 'hidden',
        fontFamily: FONT,
      }}
    >
      {SPECS.map((m, i) => (
        <PanelCanvas key={i} make={m} />
      ))}

      {/* axis titles */}
      <Txt x={131} y={8.5}>Magnetic field <MuH /> /T</Txt>
      <Txt x={303} y={8.5}>Magnetic field <MuH /> /T</Txt>
      <Txt x={507} y={8.5}>
        Effective magnetic field <MuH />
        <Sub c="eff" /> /T
      </Txt>
      <Txt x={126} y={409}>Magnetic field <MuH /> /T</Txt>
      <Txt x={304} y={409}>Magnetic field <MuH /> /T</Txt>
      <Txt x={512} y={410}>Magnetic field <MuH /> /T</Txt>
      <Txt x={8} y={110} rot={-90}><JcTitle /></Txt>
      <Txt x={8} y={307} rot={-90}><JcTitle /></Txt>
      <Txt x={641} y={110} rot={-90}><JcTitle /></Txt>
      <Txt x={637} y={307} rot={-90}><i>N</i>-Value</Txt>

      {/* panel labels */}
      <Txt x={201.5} y={46} bold>(a)</Txt>
      <Txt x={202} y={225} bold>(b)</Txt>
      <Txt x={382} y={46} bold>(c)</Txt>
      <Txt x={382} y={225} bold>(d)</Txt>
      <Txt x={582} y={47} bold>(e)</Txt>
      <Txt x={439} y={225} bold>(f)</Txt>

      {/* field orientation boxes */}
      <Txt x={216} y={137} style={{ background: '#fff', border: '1px solid #aaa', padding: '0 3px' }}>
        <i>H</i> || <i>c</i>
      </Txt>
      <Txt x={401.5} y={249} style={{ background: '#fff', border: '1px solid #aaa', padding: '0 2px' }}>
        <i>H</i> || <i>ab</i>
      </Txt>
      <Txt x={294} y={160} size={9.5}>@ 4.2 K</Txt>

      {/* panel e annotations */}
      <div
        style={{
          position: 'absolute',
          left: 408,
          top: 130,
          width: 60,
          height: 36,
          border: '1px solid #777',
          background: '#fff',
        }}
      />
      <div style={{ position: 'absolute', left: 417, top: 136, fontSize: 10, lineHeight: '12px', color: '#111', whiteSpace: 'nowrap' }}>
        low <MuH />
      </div>
      <div style={{ position: 'absolute', left: 417, top: 151, fontSize: 10, lineHeight: '12px', color: '#e8202a', whiteSpace: 'nowrap' }}>
        high <MuH />
      </div>
      <Txt x={535} y={41} size={7.5}>
        <i>ab</i>-correlated pinning
      </Txt>
      <Txt x={590} y={83} size={9.5} bold>4.2 K</Txt>
      <Txt x={489} y={175} size={9.5} bold>30 K</Txt>
      {GAMMAS.map((g) => (
        <Txt key={g.t} x={g.x} y={g.y} size={10} rot={70} color="#e8202a">
          {g.t}
        </Txt>
      ))}

      {/* inset label */}
      <Txt x={578} y={227} size={9}>Zoom in</Txt>
    </div>
  );
}
